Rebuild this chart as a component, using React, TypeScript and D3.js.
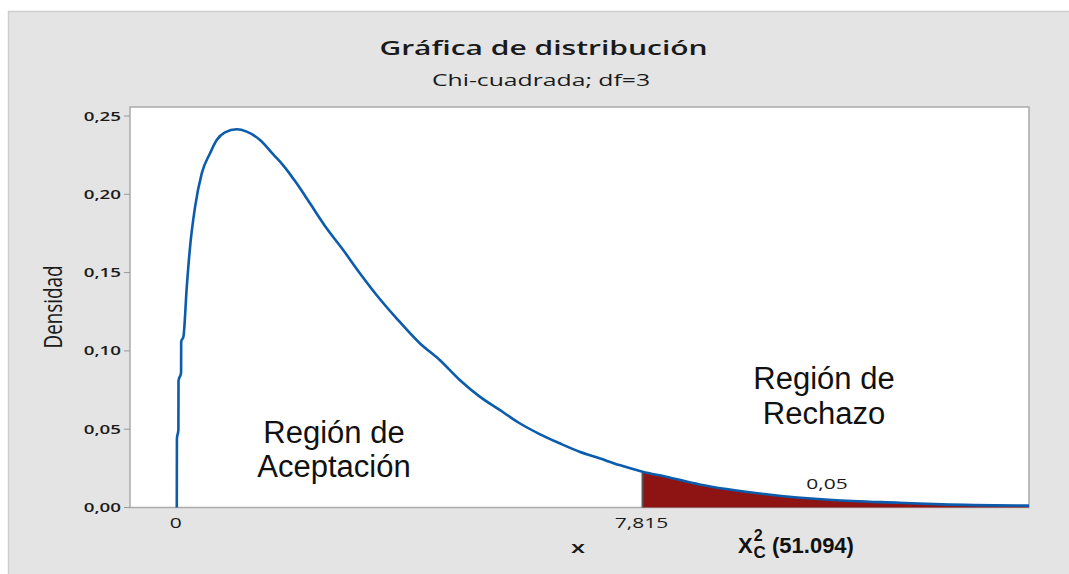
import React from 'react';
import * as d3 from 'd3';

// values (chi-square, df = 3)
const xValues = [0, 0.002, 0.027, 0.029, 0.072, 0.074, 0.111, 0.168, 0.223, 0.307, 0.419, 0.558, 0.67, 0.809, 1.006,
  1.173, 1.396, 1.619, 1.786, 2.011, 2.234, 2.514, 2.792, 3.072, 3.352, 3.687, 4.077, 4.412, 4.748, 5.083, 5.418,
  5.753, 6.088, 6.423, 6.758, 7.093, 7.428, 7.815, 8.21, 8.77, 9.89, 11.0, 12.12, 12.84, 14.3];
const densityValues = [0, 0.044, 0.0495, 0.081, 0.086, 0.106, 0.109, 0.141, 0.1665, 0.192, 0.2134, 0.2262, 0.2347,
  0.2396, 0.2415, 0.24, 0.2347, 0.2255, 0.2185, 0.207, 0.1943, 0.1783, 0.1644, 0.1496, 0.1357, 0.1208, 0.1049, 0.0942,
  0.0814, 0.0708, 0.0623, 0.0538, 0.0469, 0.041, 0.0356, 0.0314, 0.0271, 0.0229, 0.0197, 0.0147, 0.0085, 0.0048,
  0.003, 0.002, 0.0012];
const yTicks = [0, 0.05, 0.1, 0.15, 0.2, 0.25];
const xTicks = [0, 7.815];
const xTickLabels = ['0', '7,815'];
const critical = 7.815;
const alphaLabel = '0,05';

const W = 1069;
const H = 574;
const SX = 1.5; // the picture is stretched horizontally

const StretchText = ({ x, y, anchor = 'middle', size, weight = 400, children, fill = '#1a1a1a' }: any) => (
  <text
    transform={`translate(${x},${y}) scale(${SX},1)`}
    textAnchor={anchor}
    fontFamily="'Open Sans', sans-serif"
    fontSize={size}
    fontWeight={weight}
    fill={fill}
  >
    {children}
  </text>
);

const App = () => {
  const left = 130, right = 1029, top = 107, bottom = 507.5;

  const x = d3.scaleLinear().domain([-0.785, 14.3]).range([left, right]);
  const y = d3.scaleLinear().domain([0, 0.25]).range([bottom, 116]);

  const points = xValues.map((v, i) => [v, densityValues[i]] as [number, number]);
  const tail = points.filter((p) => p[0] >= critical);

  const line = d3.line<[number, number]>()
    .x((d) => x(d[0]))
    .y((d) => y(d[1]))
    .curve(d3.curveMonotoneX);

  const area = d3.area<[number, number]>()
    .x((d) => x(d[0]))
    .y0(y(0))
    .y1((d) => y(d[1]))
    .curve(d3.curveMonotoneX);

  const fmt = (v: number) => d3.format('.2f')(v).replace('.', ',');

  return (
    <svg width={W} height={H} style={{ position: 'absolute', left: 0, top: 0 }}>
      <rect x={0} y={0} width={W} height={H} fill="#ffffff" />
      <rect x={8.5} y={11.5} width={W} height={H} fill="#e4e4e4" stroke="#cdcdcd" strokeWidth={1.5} />

      <StretchText x={543.5} y={55} size={20} weight={600}>Gráfica de distribución</StretchText>
      <StretchText x={541} y={86} size={16.5}>Chi-cuadrada; df=3</StretchText>

      <rect x={left} y={top} width={right - left} height={bottom - top} fill="#ffffff" stroke="#aaaaaa" strokeWidth={1.5} />

      <path d={area(tail) || ''} fill="#8e1414" />
      <line x1={x(critical)} x2={x(critical)} y1={y(tail[0][1])} y2={bottom} stroke="#555555" strokeWidth={2} />
      <path d={line(points) || ''} fill="none" stroke="#0b5cad" strokeWidth={2.6} strokeLinejoin="round" />

      {yTicks.map((t) => (
        <g key={t}>
          <line x1={left - 6} x2={left} y1={y(t)} y2={y(t)} stroke="#999999" strokeWidth={1} />
          <StretchText x={121} y={y(t) + 4.5} anchor="end" size={12.5} weight={600}>{fmt(t)}</StretchText>
        </g>
      ))}

      {xTicks.map((t, i) => (
        <StretchText key={t} x={x(t) - 1} y={528} size={14}>{xTickLabels[i]}</StretchText>
      ))}
      <StretchText x={578} y={553} size={17} weight={600}>x</StretchText>

      <text
        transform={`translate(62,307) scale(1.5,1) rotate(-90)`}
        textAnchor="middle"
        fontFamily="'Open Sans', sans-serif"
        fontSize={16.5}
        textLength={83}
        lengthAdjust="spacingAndGlyphs"
        fill="#1a1a1a"
      >
        Densidad
      </text>

      <StretchText x={827} y={489} size={14}>{alphaLabel}</StretchText>

      <g fontFamily="'Liberation Sans', Arial, sans-serif" fontSize={31} fill="#111111" textAnchor="middle">
        <text x={334} y={443}>Región de</text>
        <text x={334} y={477}>Aceptación</text>
        <text x={824} y={389}>Región de</text>
        <text x={824} y={424}>Rechazo</text>
      </g>

      <text x={738} y={553} fontFamily="'Liberation Sans', Arial, sans-serif" fontWeight="bold" fontSize={22} fill="#111111">
        <tspan>X</tspan>
        <tspan dx={1} dy={-12} fontSize={16}>2</tspan>
        <tspan dx={-9} dy={17} fontSize={17}>C</tspan>
        <tspan dy={-5}> (51.094)</tspan>
      </text>
    </svg>
  );
};

export default App;
